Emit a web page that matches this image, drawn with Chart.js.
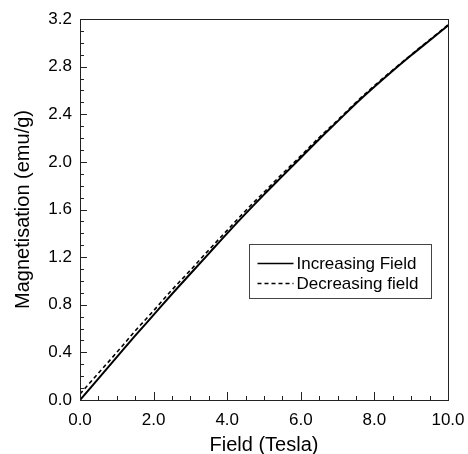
<!DOCTYPE html>
<html>
<head>
<meta charset="utf-8">
<script src="https://cdn.jsdelivr.net/npm/chart.js@4"></script>
<style>
  html, body { margin: 0; padding: 0; background: #fff; }
  #wrap { width: 468px; height: 454px; }
</style>
</head>
<body>
<div id="wrap"><canvas id="magChart" width="468" height="454"></canvas></div>
<script>
// field values (Tesla)
const fieldValues = [0, 0.5, 1.0, 1.5, 2.0, 2.5, 3.0, 3.5, 4.0, 4.5, 5.0, 5.5, 6.0, 6.5, 7.0, 7.5, 8.0, 8.5, 9.0, 9.5, 10.0];
// magnetisation (emu/g)
const increasingValues = [0, 0.18, 0.36, 0.54, 0.715, 0.89, 1.06, 1.23, 1.40, 1.565, 1.725, 1.88, 2.035, 2.19, 2.34, 2.49, 2.63, 2.765, 2.895, 3.02, 3.145];
const decreasingValues = [0.05, 0.225, 0.40, 0.58, 0.75, 0.925, 1.09, 1.26, 1.425, 1.59, 1.745, 1.90, 2.05, 2.205, 2.35, 2.50, 2.64, 2.772, 2.90, 3.025, 3.15];
const seriesLabels = ["Increasing Field", "Decreasing field"];

const fontFamily = "'Liberation Sans', Arial, Helvetica, sans-serif";

function toPoints(values) {
  return fieldValues.map((f, i) => ({ x: f, y: values[i] }));
}

// frame, inward ticks and the legend box
const framePlugin = {
  id: "framePlugin",
  afterDraw(chart) {
    const ctx = chart.ctx;
    const area = chart.chartArea;
    const xs = chart.scales.x;
    const ys = chart.scales.y;
    ctx.save();
    ctx.strokeStyle = "#222";
    ctx.lineWidth = 1;

    // inward ticks on the y axis
    for (let i = 0; i <= 32; i++) {
      const v = i / 10;
      const py = Math.round(ys.getPixelForValue(v)) + 0.5;
      const len = i % 4 === 0 ? 7 : 4;
      ctx.beginPath();
      ctx.moveTo(area.left, py);
      ctx.lineTo(area.left + len, py);
      ctx.stroke();
    }
    // inward ticks on the x axis
    for (let i = 0; i <= 20; i++) {
      const v = i / 2;
      const px = Math.round(xs.getPixelForValue(v)) + 0.5;
      const len = i % 4 === 0 ? 8 : 4;
      ctx.beginPath();
      ctx.moveTo(px, area.bottom);
      ctx.lineTo(px, area.bottom - len);
      ctx.stroke();
    }

    // frame
    ctx.strokeRect(Math.round(area.left) + 0.5, Math.round(area.top) + 0.5,
      Math.round(area.right - area.left), Math.round(area.bottom - area.top));

    // legend
    const w = area.right - area.left;
    const h = area.bottom - area.top;
    const bx = Math.round(area.left + w * 0.459) + 0.5;
    const by = Math.round(area.top + h * 0.59) + 0.5;
    const bw = Math.round(w * 0.495);
    const bh = 54;
    ctx.fillStyle = "#fff";
    ctx.fillRect(bx, by, bw, bh);
    ctx.strokeStyle = "#444";
    ctx.strokeRect(bx, by, bw, bh);

    ctx.font = "17px " + fontFamily;
    ctx.textBaseline = "middle";
    ctx.fillStyle = "#000";
    chart.data.datasets.forEach((ds, i) => {
      const ly = Math.round(by + 18 + i * 20.5) + 0.5;
      ctx.strokeStyle = "#000";
      ctx.lineWidth = 1.5;
      ctx.setLineDash(ds.borderDash || []);
      ctx.beginPath();
      ctx.moveTo(bx + 8, ly);
      ctx.lineTo(bx + 44, ly);
      ctx.stroke();
      ctx.setLineDash([]);
      ctx.fillText(ds.label, bx + 47, ly + 1);
    });
    ctx.restore();
  },
};

const magChart = document.getElementById("magChart");
new Chart(magChart, {
  type: "line",
  data: {
    datasets: [
      {
        label: seriesLabels[0],
        data: toPoints(increasingValues),
        borderColor: "#000",
        borderWidth: 2,
        pointRadius: 0,
        cubicInterpolationMode: "monotone",
      },
      {
        label: seriesLabels[1],
        data: toPoints(decreasingValues),
        borderColor: "#000",
        borderWidth: 1.6,
        borderDash: [4, 3],
        pointRadius: 0,
        cubicInterpolationMode: "monotone",
      },
    ],
  },
  options: {
    responsive: false,
    animation: false,
    devicePixelRatio: 1,
    layout: {
      padding: { top: 19, right: 20, left: 0, bottom: 0 },
    },
    plugins: {
      legend: { display: false },
      tooltip: { enabled: false },
    },
    scales: {
      x: {
        type: "linear",
        min: 0,
        max: 10,
        afterFit: (scale) => {
          scale.height = 54;
          scale.paddingLeft = 0;
          scale.paddingRight = 0;
        },
        grid: { display: false, drawTicks: false },
        border: { display: false },
        ticks: {
          stepSize: 2,
          padding: 10,
          maxRotation: 0,
          autoSkip: false,
          color: "#000",
          font: { family: fontFamily, size: 17 },
          callback: (value) => value.toFixed(1),
        },
        title: {
          display: true,
          text: "Field (Tesla)",
          color: "#000",
          padding: { top: 0, bottom: -3 },
          font: { family: fontFamily, size: 20 },
        },
      },
      y: {
        type: "linear",
        min: 0,
        max: 3.2,
        afterFit: (scale) => {
          scale.width = 80;
          scale.paddingTop = 0;
          scale.paddingBottom = 0;
        },
        grid: { display: false, drawTicks: false },
        border: { display: false },
        ticks: {
          stepSize: 0.4,
          padding: 8,
          autoSkip: false,
          color: "#000",
          font: { family: fontFamily, size: 17 },
          callback: (value) => value.toFixed(1),
        },
        title: {
          display: true,
          text: "Magnetisation (emu/g)",
          color: "#000",
          padding: { top: 11, bottom: 0 },
          font: { family: fontFamily, size: 20 },
        },
      },
    },
  },
  plugins: [framePlugin],
});
</script>
</body>
</html>
